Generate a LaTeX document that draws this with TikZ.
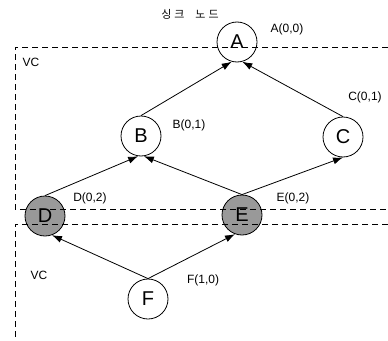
\documentclass[tikz,border=0pt]{standalone}
\usepackage{fontspec}
\setmainfont{Liberation Sans}
\newfontfamily\kofont{Noto Sans CJK KR}
\usepackage{tikz}
\usetikzlibrary{
    positioning,
    arrows.meta
}

\begin{document}
\begin{tikzpicture}[x=1pt, y=-1pt,
  vnode/.style={draw, circle, minimum size=40pt, inner sep=0pt, line width=0.8pt,
                font=\fontsize{20}{22}\selectfont},
  hnode/.style={vnode, fill=black!40},
  lbl/.style={font=\fontsize{12}{14}\selectfont, inner sep=0pt},
  parr/.style={-{Latex[length=10pt,width=7pt]}, line width=0.8pt},
  vcline/.style={dashed, dash pattern=on 6pt off 4pt, line width=0.8pt}]

  \useasboundingbox (0,0) rectangle (388,340);

  % Nodes top to bottom
  \node[vnode] (A) at (237,42)  {A};
  \node[vnode] (B) at (141,136) {B};
  \node[vnode] (C) at (343,137) {C};
  \node[hnode] (D) at (45,216)  {D};
  \node[hnode] (E) at (242,215) {E};
  \node[vnode] (F) at (148,299) {F};

  % Labels
  \node[lbl, font=\kofont\fontsize{11}{13}\selectfont] (sink) at (190,14)
    {싱\hspace{3pt}크\hspace{11pt}노\hspace{3pt}드};
  \node[lbl] (lA) at (287,29)  {A(0,0)};
  \node[lbl] (lB) at (189,125) {B(0,1)};
  \node[lbl] (lC) at (365,97)  {C(0,1)};
  \node[lbl] (lD) at (90,198)  {D(0,2)};
  \node[lbl] (lE) at (293,198) {E(0,2)};
  \node[lbl] (lF) at (203,280) {F(1,0)};
  \node[lbl] (vc1) at (31,62)  {VC};
  \node[lbl] (vc2) at (39,275) {VC};

  % Upward arrows
  \draw[parr] (B.north) to (A.255);
  \draw[parr] (C.north) to (A.285);
  \draw[parr] (D.north) to (B.262);
  \draw[parr] (E.north) to (B.278);
  \draw[parr] (E.north) to (C.south);
  \draw[parr] (F.north) to (D.290);
  \draw[parr] (F.north) to (E.250);

  % VC regions
  \draw[vcline] (388,47) -| (15,209) -- (388,209);
  \draw[vcline] (388,224) -| (15,340);
\end{tikzpicture}
\end{document}
